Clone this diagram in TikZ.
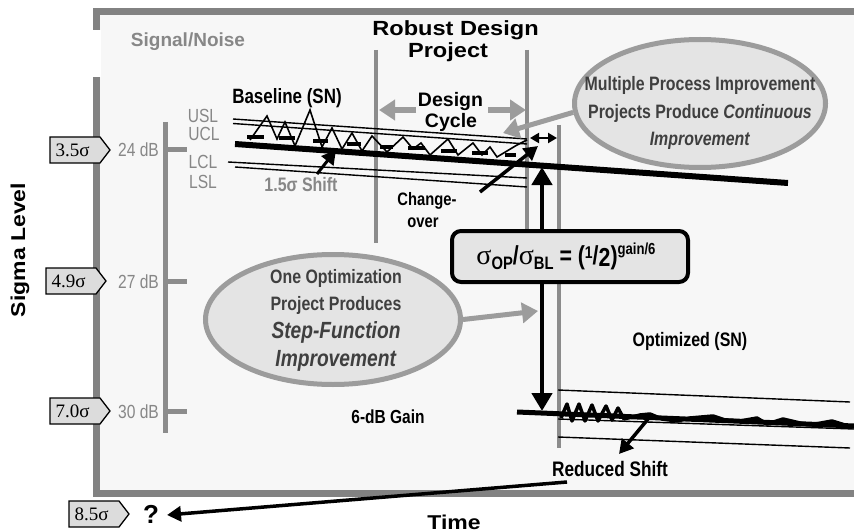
\documentclass[tikz,border=0pt]{standalone}
\usepackage{fontspec}
\setmainfont{Liberation Sans}
\newfontfamily\cond[FakeStretch=0.82]{Liberation Sans}
\newfontfamily\wide[FakeStretch=1.15]{Liberation Sans}
\newfontfamily\timesfont{Liberation Serif}
\usetikzlibrary{arrows.meta,shapes.geometric}
\newcommand\fsz[1]{\fontsize{#1}{#1}\selectfont}
\definecolor{framegray}{HTML}{828282}
\definecolor{panel}{HTML}{F7F7F7}
\definecolor{axisgray}{HTML}{8C8C8C}
\definecolor{pointergray}{HTML}{9C9C9C}
\definecolor{ellfill}{HTML}{E4E4E4}
\definecolor{tagfill}{HTML}{DCDCDC}
\definecolor{labelgray}{HTML}{878787}
\definecolor{bubbletext}{HTML}{3F3F3F}

\tikzset{
  lbl/.style={font=\bfseries\fsz{#1}, anchor=base, inner sep=0pt},
  clbl/.style={font=\cond\bfseries\fsz{#1}, anchor=base, inner sep=0pt},
  wlbl/.style={font=\wide\bfseries\fsz{#1}, anchor=base, inner sep=0pt},
  glbl/.style={font=\cond\fsz{#1}, text=labelgray, anchor=base, inner sep=0pt},
  tagshape/.style={draw=black, line width=1.3pt, fill=tagfill, line join=miter},
  tagtext/.style={font=\timesfont\fsz{19}, inner sep=0pt},
  bubble/.style={ellipse, draw=pointergray, line width=5pt, fill=ellfill, inner sep=0pt},
  bubtext/.style={text=bubbletext, align=center, inner sep=0pt},
  grayarrow/.style={draw=pointergray, line width=6pt, -{Triangle[length=16pt,width=20pt]}},
  blackarrow/.style={draw=black, line width=4.5pt, -{Triangle[length=18pt,width=20pt]}},
  thinarrow/.style={draw=black, line width=3.5pt, -{Triangle[length=14pt,width=15pt]}},
  limit/.style={line width=1.4pt},
  trend/.style={line width=6pt},
  zig/.style={line width=1.6pt, line join=miter},
  avgmark/.style={line width=4pt},
  divider/.style={draw=axisgray, line width=4pt},
}

\begin{document}
\begin{tikzpicture}[x=1pt,y=-1pt]
\useasboundingbox (0,0) rectangle (854,532);

% panel and its frame
\fill[panel] (100,15) rectangle (854,490);
\draw[framegray, line width=7.5pt] (854,11.5) -- (96.5,11.5) -- (96.5,493.5) -- (854,493.5);
\fill[white] (92,30) rectangle (101,77);

% sigma-level scale
\draw[axisgray, line width=5pt] (165.5,122) -- (165.5,433);
\foreach \yy in {150,281,411} \draw[axisgray, line width=5pt] (168,\yy) -- (187,\yy);

% project boundaries
\draw[divider] (376,50) -- (376,243);
\draw[divider, line width=3.5pt] (527,50) -- (527,229);
\draw[divider] (559,125) -- (559,448);

% baseline process: limits, trend and signal
\draw[limit] (233,119) -- (527,139);
\draw[limit] (233,123.5) -- (527,144);
\draw[limit] (228,162) -- (527,178);
\draw[limit] (235,167) -- (527,187);
\draw[trend] (235,144) -- (788,183);
\draw[zig] (250,140) -- (267,116) -- (277,139) -- (285,122) -- (295,146) -- (310,110)
  -- (322,147) -- (332,128) -- (342,149) -- (352,133) -- (362,151) -- (372,136)
  -- (387,152) -- (403,137) -- (413,149) -- (421,143) -- (430,155) -- (448,139)
  -- (458,155) -- (473,143) -- (482,155) -- (490,147) -- (497,157) -- (517,145) -- (527,140);
\foreach \xa/\xb/\yy in {247/264/137, 279/295/138, 313/328/141, 347/361/144, 380/393/147,
  408/425/148, 441/457/151, 472/488/153, 505/516/155}
  \draw[avgmark] (\xa,\yy) -- (\xb,\yy);

% optimized process: limits, trend and signal
\draw[limit] (558,390) -- (850,402);
\draw[limit] (558,437) -- (850,448);
\draw[limit] (558,419) -- (854,429);
\draw[line width=5pt] (517,412) -- (854,426);
\draw[line width=3.5pt, line join=round] (561,418) -- (567,404) -- (572,421) -- (579,404) -- (585,421)
  -- (592,405) -- (598,421) -- (606,406) -- (612,420) -- (618,408) -- (624,419)
  -- (640,415) -- (650,414) -- (662,419) -- (677,421) -- (690,418) -- (713,416)
  -- (725,420) -- (740,421) -- (757,418) -- (767,424) -- (783,419) -- (800,423)
  -- (810,425) -- (832,421) -- (845,425) -- (854,427);

% sigma tags
\foreach \xx/\yy in {50/150, 46/281, 50/411, 69/514}
  \draw[tagshape] (\xx,\yy-13) -- (\xx+50,\yy-13) -- (\xx+60,\yy) -- (\xx+50,\yy+13) -- (\xx,\yy+13) -- cycle;
\node[tagtext] (t35) at (72.5,150) {3.5σ};
\node[tagtext] (t49) at (68.5,281) {4.9σ};
\node[tagtext] (t70) at (72.5,411) {7.0σ};
\node[tagtext] (t85) at (91.5,514) {8.5σ};

% scale labels
\node[glbl=19] (db24) at (138.5,157) {24 dB};
\node[glbl=19] (db27) at (138.5,288) {27 dB};
\node[glbl=19] (db30) at (138.5,418) {30 dB};
\node[glbl=19] (usl) at (203,123) {USL};
\node[glbl=19] (ucl) at (204,141) {UCL};
\node[glbl=19] (lcl) at (203,168) {LCL};
\node[glbl=19] (lsl) at (203,189) {LSL};
\node[lbl=19, text=labelgray] (sn) at (188,46.5) {Signal/Noise};
\node[clbl=19.5, text=labelgray] (shift) at (301,191) {1.5σ Shift};

% axis titles
\node[wlbl=20, rotate=90] (sigmalevel) at (25,250) {Sigma Level};
\node[wlbl=20] (time) at (454,529) {Time};
\node[lbl=26] (qmark) at (151,523) {?};

% headings and labels
\node[wlbl=20.5] (robust1) at (455.5,36) {Robust Design};
\node[wlbl=20.5] (robust2) at (448,58) {Project};
\node[clbl=20.7] (baseline) at (287,104) {Baseline (SN)};
\node[lbl=19.5] (design) at (450.5,107) {Design};
\node[lbl=19.5] (cycle) at (451,128) {Cycle};
\node[clbl=18] (change) at (427,205) {Change-};
\node[clbl=18] (over) at (423,227) {over};
\node[clbl=18.9] (gain) at (388,423) {6-dB Gain};
\node[clbl=19.5] (optimized) at (690,346) {Optimized (SN)};
\node[clbl=21] (reduced) at (610,476) {Reduced Shift};

% bubbles
\node[bubble, minimum width=251pt, minimum height=128pt] (bubble1) at (700,103.5) {};
\node[bubtext, font=\cond\bfseries\fontsize{19.4}{27.5}\selectfont] (bubble1txt) at (700,113)
  {Multiple Process Improvement\\Projects Produce \textit{Continuous}\\\textit{Improvement}};
\node[bubble, minimum width=255pt, minimum height=130pt] (bubble2) at (333,319.5) {};
\node[bubtext, font=\cond\bfseries\fontsize{19.4}{27.7}\selectfont] (bubble2txt) at (336,320)
  {One Optimization\\Project Produces\\{\fsz{23.4}\textit{Step-Function}}\\{\fsz{23.4}\textit{Improvement}}};

% anchor points of the pointers
\coordinate (dcl-tail) at (416,110);
\coordinate (dcl-tip) at (379,110);
\coordinate (dcr-tail) at (488,110);
\coordinate (dcr-tip) at (526,110);
\coordinate (cont-tip) at (503,133);
\coordinate (step-tip) at (538,311);
\coordinate (lag-l) at (530,138);
\coordinate (lag-r) at (557,138);
\coordinate (co-tail) at (480,192);
\coordinate (co-tip) at (538,146);
\coordinate (sh-tail) at (317,174);
\coordinate (sh-tip) at (336,150);
\coordinate (rs-tail) at (648,419);
\coordinate (rs-tip) at (619,454);
\coordinate (bl-level) at (542,167);
\coordinate (op-level) at (542,411);
\coordinate (q-tail) at (567,482);
\coordinate (q-tip) at (167,515);

% formula box
\node[draw=black, line width=4pt, rounded corners=9pt, fill=ellfill,
  minimum width=236pt, minimum height=51pt, inner sep=0pt, font=\cond\bfseries\fsz{26}]
  (formula) at (570,256.5)
  {\hspace*{-8pt}{\timesfont\mdseries\fsz{28}σ}{\fsz{18}\raisebox{-5pt}{OP}}/{\timesfont\mdseries\fsz{28}σ}{\fsz{18}\raisebox{-5pt}{BL}}
   = ({\fsz{17}\raisebox{6pt}{1}}/\raisebox{-2pt}{2}){\fsz{16}\raisebox{10pt}{gain/6}}};

% pointers
\draw[grayarrow] (dcl-tail) -- (dcl-tip);
\draw[grayarrow] (dcr-tail) -- (dcr-tip);
\draw[grayarrow, line width=5pt] (bubble1.184) -- (cont-tip);
\draw[grayarrow, line width=5pt] (bubble2.east) -- (step-tip);
\draw[line width=2pt, {Triangle[length=9pt,width=10pt]}-{Triangle[length=9pt,width=10pt]}] (lag-l) -- (lag-r);
\draw[thinarrow] (co-tail) -- (co-tip);
\draw[thinarrow, line width=3pt] (sh-tail) -- (sh-tip);
\draw[thinarrow] (rs-tail) -- (rs-tip);
\draw[blackarrow] (formula.north -| bl-level) -- (bl-level);
\draw[blackarrow] (formula.south -| op-level) -- (op-level);
\draw[thinarrow] (q-tail) -- (q-tip);
\end{tikzpicture}
\end{document}
